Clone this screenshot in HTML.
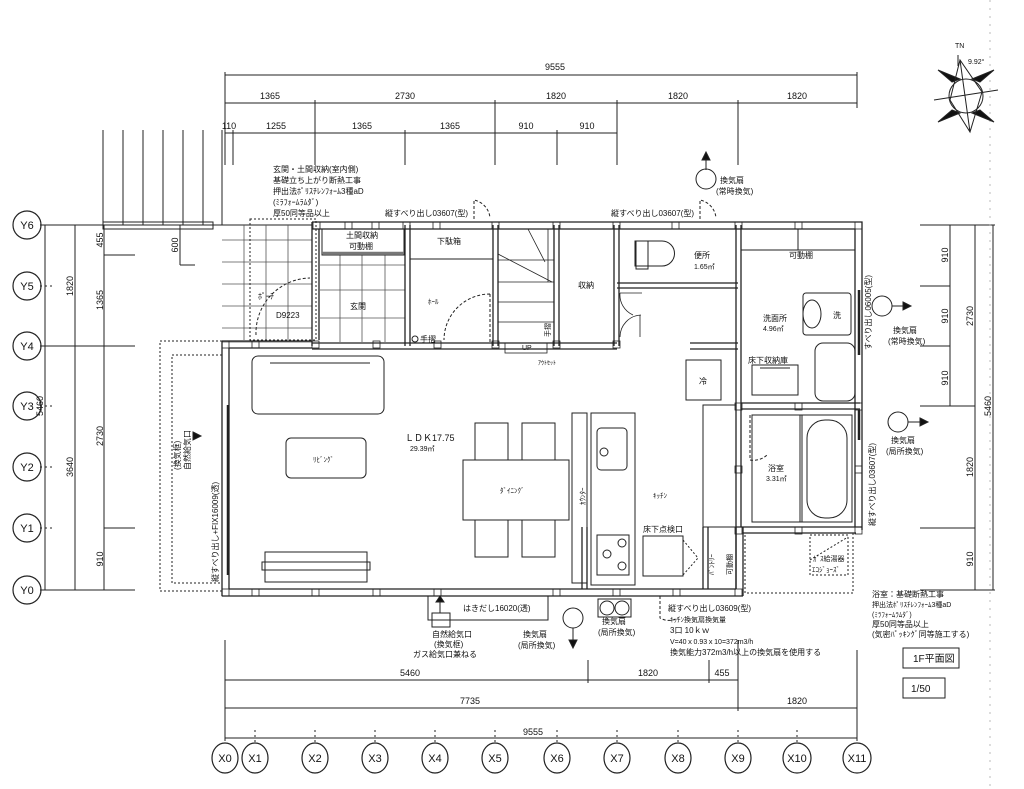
<!DOCTYPE html>
<html><head><meta charset="utf-8"><style>
html,body{margin:0;padding:0;background:#fff;}
svg{display:block;}
text{font-family:"Liberation Sans","Noto Sans CJK JP",sans-serif;fill:#111;}
</style></head><body>
<svg width="1024" height="789" viewBox="0 0 1024 789" xmlns="http://www.w3.org/2000/svg">
<g stroke="#222" stroke-width="1" fill="none">
<line x1="225" y1="75" x2="857" y2="75"/>
<line x1="225" y1="103" x2="857" y2="103"/>
<line x1="225" y1="133" x2="617" y2="133"/>
<line x1="225" y1="72" x2="225" y2="165"/><line x1="857" y1="72" x2="857" y2="108"/>
<line x1="233" y1="130" x2="233" y2="165"/>
<line x1="315" y1="100" x2="315" y2="165"/><line x1="405" y1="130" x2="405" y2="165"/>
<line x1="495" y1="100" x2="495" y2="165"/><line x1="557" y1="130" x2="557" y2="165"/>
<line x1="617" y1="100" x2="617" y2="165"/><line x1="738" y1="100" x2="738" y2="165"/>
<line x1="103" y1="130" x2="103" y2="225"/><line x1="123" y1="130" x2="123" y2="225"/>
<line x1="143" y1="130" x2="143" y2="225"/><line x1="163" y1="130" x2="163" y2="225"/>
<line x1="183" y1="130" x2="183" y2="225"/><line x1="203" y1="130" x2="203" y2="225"/>
<line x1="222" y1="130" x2="222" y2="225"/>
<line x1="45" y1="225" x2="45" y2="590"/>
<line x1="75" y1="225" x2="75" y2="590"/>
<line x1="104" y1="225" x2="104" y2="590"/>
<line x1="40" y1="225" x2="312" y2="225"/><line x1="40" y1="590" x2="135" y2="590"/>
<line x1="40" y1="286" x2="55" y2="286" stroke-dasharray="2,3"/>
<line x1="40" y1="346" x2="135" y2="346"/><line x1="40" y1="406" x2="55" y2="406" stroke-dasharray="2,3"/>
<line x1="40" y1="467" x2="55" y2="467" stroke-dasharray="2,3"/>
<line x1="104" y1="528" x2="135" y2="528"/><line x1="40" y1="528" x2="55" y2="528" stroke-dasharray="2,3"/>
<line x1="104" y1="255" x2="135" y2="255"/>
<line x1="180" y1="225" x2="180" y2="265"/><line x1="180" y1="265" x2="195" y2="265"/>
<rect x="103" y="222" width="110" height="7"/>
<line x1="950" y1="225" x2="950" y2="406"/>
<line x1="975" y1="225" x2="975" y2="590"/>
<line x1="993" y1="225" x2="993" y2="590"/>
<line x1="920" y1="225" x2="995" y2="225"/><line x1="920" y1="286" x2="950" y2="286"/>
<line x1="920" y1="346" x2="950" y2="346"/><line x1="920" y1="406" x2="975" y2="406"/>
<line x1="920" y1="528" x2="975" y2="528"/><line x1="920" y1="590" x2="995" y2="590"/>
<line x1="990" y1="0" x2="990" y2="789" stroke="#bbb" stroke-dasharray="2,6"/>
<line x1="225" y1="680" x2="738" y2="680"/>
<line x1="225" y1="708" x2="857" y2="708"/>
<line x1="225" y1="738" x2="857" y2="738"/>
<line x1="588" y1="660" x2="588" y2="683"/><line x1="709" y1="660" x2="709" y2="683"/>
<line x1="738" y1="640" x2="738" y2="711"/><line x1="857" y1="650" x2="857" y2="741"/>
<line x1="225" y1="640" x2="225" y2="741"/>
<g stroke-dasharray="2,3">
<line x1="255" y1="730" x2="255" y2="744"/><line x1="315" y1="730" x2="315" y2="744"/>
<line x1="375" y1="730" x2="375" y2="744"/><line x1="435" y1="730" x2="435" y2="744"/>
<line x1="495" y1="730" x2="495" y2="744"/><line x1="557" y1="730" x2="557" y2="744"/>
<line x1="617" y1="730" x2="617" y2="744"/><line x1="678" y1="730" x2="678" y2="744"/>
<line x1="738" y1="730" x2="738" y2="744"/><line x1="797" y1="730" x2="797" y2="744"/>
</g>
<g stroke="#555" stroke-width="0.8">
<line x1="222" y1="240" x2="312" y2="240"/><line x1="222" y1="262" x2="312" y2="262"/>
<line x1="222" y1="284" x2="312" y2="284"/><line x1="222" y1="306" x2="312" y2="306"/>
<line x1="222" y1="328" x2="312" y2="328"/>
<line x1="244" y1="225" x2="244" y2="340"/><line x1="266" y1="225" x2="266" y2="340"/><line x1="288" y1="225" x2="288" y2="340"/>
<line x1="320" y1="265" x2="405" y2="265"/><line x1="320" y1="290" x2="405" y2="290"/><line x1="320" y1="318" x2="405" y2="318"/>
<line x1="340" y1="255" x2="340" y2="342"/><line x1="362" y1="255" x2="362" y2="342"/><line x1="385" y1="255" x2="385" y2="342"/>
<line x1="222" y1="342" x2="312" y2="342"/>
</g>
<rect x="250" y="219" width="66" height="121" stroke-dasharray="2,2"/>
<path d="M256 335 A55 55 0 0 1 310 278" stroke-dasharray="3,2"/>
<g stroke-width="1.3">
<path d="M312 222 H862 V530 M312 229 H855 V527"/>
<path d="M312 222 V346 M319 229 V340"/>
<path d="M222 341 H312 M229 348 H312"/>
<path d="M222 341 V596 M229 348 V589"/>
<path d="M222 596 H743 M229 589 H736"/>
<path d="M743 527 V596 M736 527 V589"/>
<path d="M736 527 H862"/><path d="M743 533 H856"/>
<path d="M405 225 V346 M410 225 V346"/>
<path d="M493 225 V346 M498 225 V346"/>
<path d="M554 225 V346 M559 225 V346"/>
<path d="M614 225 V346 M619 225 V346"/>
<path d="M312 343 H617 M312 349 H617"/>
<path d="M617 283 H738 M617 288 H738"/>
<path d="M736 225 V589 M741 225 V527"/>
<path d="M741 403 H860 M741 409 H860"/>
<path d="M690 343 H738 M690 349 H738"/>
<path d="M703 527 V589 M708 527 V589"/>
<path d="M582 527 V589 M587 527 V589"/>
<path d="M228 405 V575" stroke-width="2.5"/>
<path d="M859 290 V355" stroke-width="2.5"/><path d="M859 410 V440" stroke-width="2.5"/>
</g>
<g stroke-width="0.8">
<rect x="313" y="222" width="7" height="7"/><rect x="345" y="222" width="7" height="7"/><rect x="372" y="222" width="7" height="7"/>
<rect x="403" y="222" width="7" height="7"/><rect x="433" y="222" width="7" height="7"/><rect x="492" y="222" width="7" height="7"/>
<rect x="553" y="222" width="7" height="7"/><rect x="613" y="222" width="7" height="7"/><rect x="672" y="222" width="7" height="7"/>
<rect x="735" y="222" width="7" height="7"/><rect x="795" y="222" width="7" height="7"/><rect x="855" y="222" width="7" height="7"/>
<rect x="222" y="341" width="7" height="7"/><rect x="252" y="341" width="7" height="7"/><rect x="312" y="341" width="7" height="7"/>
<rect x="373" y="341" width="7" height="7"/><rect x="434" y="341" width="7" height="7"/><rect x="492" y="341" width="7" height="7"/>
<rect x="553" y="341" width="7" height="7"/><rect x="613" y="341" width="7" height="7"/>
<rect x="222" y="589" width="7" height="7"/><rect x="252" y="589" width="7" height="7"/><rect x="312" y="589" width="7" height="7"/>
<rect x="373" y="589" width="7" height="7"/><rect x="434" y="589" width="7" height="7"/><rect x="553" y="589" width="7" height="7"/>
<rect x="613" y="589" width="7" height="7"/><rect x="673" y="589" width="7" height="7"/><rect x="735" y="589" width="7" height="7"/>
<rect x="855" y="403" width="7" height="7"/><rect x="855" y="466" width="7" height="7"/><rect x="855" y="527" width="7" height="7"/>
<rect x="795" y="403" width="7" height="7"/><rect x="735" y="403" width="7" height="7"/><rect x="735" y="466" width="7" height="7"/>
<rect x="795" y="527" width="7" height="7"/><rect x="735" y="527" width="7" height="7"/>
</g>
<rect x="322" y="229" width="82" height="26"/>
<line x1="322" y1="253" x2="404" y2="253" stroke-width="2.5" stroke="#777"/>
<line x1="410" y1="259" x2="493" y2="259"/>
<path d="M490 294 V343 M490 294 A46 46 0 0 0 444 340" stroke-dasharray="3,2"/>
<path d="M474 219 V200 A20 20 0 0 1 490 218" stroke-dasharray="3,2"/>
<path d="M700 219 V200 A20 20 0 0 1 716 218" stroke-dasharray="3,2"/>
<circle cx="415" cy="339" r="3"/>
<g stroke-width="0.8">
<line x1="498" y1="260" x2="554" y2="260"/><line x1="498" y1="282" x2="554" y2="282"/><line x1="498" y1="302" x2="554" y2="302"/>
<line x1="498" y1="322" x2="554" y2="322"/><line x1="528" y1="229" x2="545" y2="262"/><line x1="498" y1="254" x2="552" y2="282"/>
<line x1="548" y1="229" x2="548" y2="282"/>
<rect x="505" y="343" width="42" height="10"/>
</g>
<path d="M620 293 L642 293 M620 293 A22 22 0 0 0 633 315 M620 337 A22 22 0 0 1 641 315 M640 337 V315" stroke-width="0.8"/>
<path d="M635 241 H662 A12 12 0 0 1 662 266 H635 Z"/><rect x="636" y="241" width="12" height="28"/>
<line x1="741" y1="250" x2="855" y2="250"/><line x1="798" y1="229" x2="798" y2="250"/>
<rect x="803" y="293" width="48" height="42" rx="3"/><ellipse cx="812" cy="314" rx="9" ry="14"/>
<rect x="815" y="343" width="40" height="58" rx="8"/>
<rect x="752" y="365" width="46" height="30"/><line x1="760" y1="368" x2="790" y2="368"/>
<rect x="752" y="415" width="50" height="107"/>
<rect x="800" y="415" width="52" height="107"/>
<rect x="807" y="420" width="40" height="98" rx="18"/>
<path d="M750 415 V460 A20 20 0 0 0 767 455" stroke-dasharray="3,2"/>
<rect x="745" y="533" width="108" height="60" stroke-dasharray="2,2"/>
<rect x="810" y="535" width="38" height="40" stroke-dasharray="2,2"/>
<line x1="810" y1="560" x2="848" y2="537" stroke-dasharray="2,2"/>
<rect x="252" y="356" width="132" height="58" rx="6"/><line x1="270" y1="363" x2="370" y2="363"/>
<rect x="286" y="438" width="80" height="40" rx="5"/>
<rect x="265" y="552" width="102" height="30"/><rect x="262" y="562" width="108" height="8"/>
<rect x="463" y="460" width="106" height="60"/>
<rect x="475" y="423" width="33" height="37"/><rect x="522" y="423" width="33" height="37"/>
<rect x="475" y="520" width="33" height="37"/><rect x="522" y="520" width="33" height="37"/>
<rect x="572" y="413" width="15" height="170"/>
<rect x="591" y="413" width="44" height="172"/>
<rect x="597" y="428" width="30" height="42" rx="4"/><circle cx="604" cy="452" r="4"/>
<rect x="597" y="535" width="32" height="40"/>
<circle cx="622" cy="543" r="4"/><circle cx="607" cy="554" r="4"/><circle cx="622" cy="566" r="4"/>
<rect x="643" y="536" width="40" height="40"/>
<path d="M683 540 L698 558 L683 575" stroke-dasharray="2,2"/>
<rect x="686" y="360" width="35" height="40"/>
<rect x="703" y="405" width="33" height="122"/>
<path d="M660 596 V618 A18 18 0 0 0 678 618" stroke-dasharray="3,2"/>
<rect x="160" y="341" width="62" height="250" stroke-dasharray="2,2"/>
<rect x="172" y="355" width="50" height="228" stroke-dasharray="2,2"/>
<rect x="428" y="596" width="120" height="24"/>
<rect x="432" y="613" width="18" height="14"/>
<line x1="440" y1="613" x2="440" y2="600"/>
<path d="M436 602 L440 596 L444 602 Z" fill="#111"/>
<circle cx="706" cy="179" r="10"/><line x1="706" y1="170" x2="706" y2="156"/><path d="M702 160 L706 152 L710 160 Z" fill="#111"/>
<circle cx="573" cy="618" r="10"/><line x1="573" y1="628" x2="573" y2="642"/><path d="M569 640 L573 648 L577 640 Z" fill="#111"/>
<circle cx="607" cy="608" r="7"/><circle cx="622" cy="608" r="7"/><rect x="598" y="599" width="33" height="18"/>
<circle cx="882" cy="306" r="10"/><line x1="892" y1="306" x2="905" y2="306"/><path d="M903 302 L911 306 L903 310 Z" fill="#111"/>
<circle cx="898" cy="422" r="10"/><line x1="908" y1="422" x2="922" y2="422"/><path d="M920 418 L928 422 L920 426 Z" fill="#111"/>
<path d="M193 432 L201 436 L193 440 Z" fill="#111"/>
<g stroke-width="1.2">
<ellipse cx="225" cy="758" rx="13" ry="15"/><ellipse cx="255" cy="758" rx="13" ry="15"/><ellipse cx="315" cy="758" rx="13" ry="15"/>
<ellipse cx="375" cy="758" rx="13" ry="15"/><ellipse cx="435" cy="758" rx="13" ry="15"/><ellipse cx="495" cy="758" rx="13" ry="15"/>
<ellipse cx="557" cy="758" rx="13" ry="15"/><ellipse cx="617" cy="758" rx="13" ry="15"/><ellipse cx="678" cy="758" rx="13" ry="15"/>
<ellipse cx="738" cy="758" rx="13" ry="15"/><ellipse cx="797" cy="758" rx="14" ry="15"/><ellipse cx="857" cy="758" rx="14" ry="15"/>
<ellipse cx="27" cy="225" rx="14" ry="14"/><ellipse cx="27" cy="286" rx="14" ry="14"/><ellipse cx="27" cy="346" rx="14" ry="14"/>
<ellipse cx="27" cy="406" rx="14" ry="14"/><ellipse cx="27" cy="467" rx="14" ry="14"/><ellipse cx="27" cy="528" rx="14" ry="14"/>
<ellipse cx="27" cy="590" rx="14" ry="14"/>
</g>
<rect x="903" y="648" width="56" height="20"/>
<rect x="903" y="678" width="42" height="20"/>
<circle cx="966" cy="96" r="17"/>
<path d="M952 82 L938 70 L960 79 Z M980 82 L994 70 L972 79 Z M952 110 L938 122 L960 113 Z M980 110 L994 122 L972 113 Z" fill="#111"/>
<path d="M960 60 L970 132 M934 100 L998 90 M960 60 L950 100 L970 132 L982 92 Z"/>
<line x1="958" y1="55" x2="958" y2="66"/>
</g>
<g font-size="9">
<text x="555" y="70" text-anchor="middle">9555</text>
<text x="270" y="99" text-anchor="middle">1365</text><text x="405" y="99" text-anchor="middle">2730</text>
<text x="556" y="99" text-anchor="middle">1820</text><text x="678" y="99" text-anchor="middle">1820</text><text x="797" y="99" text-anchor="middle">1820</text>
<text x="229" y="129" text-anchor="middle">110</text><text x="276" y="129" text-anchor="middle">1255</text>
<text x="362" y="129" text-anchor="middle">1365</text><text x="450" y="129" text-anchor="middle">1365</text>
<text x="526" y="129" text-anchor="middle">910</text><text x="587" y="129" text-anchor="middle">910</text>
<text x="410" y="676" text-anchor="middle">5460</text><text x="648" y="676" text-anchor="middle">1820</text><text x="722" y="676" text-anchor="middle">455</text>
<text x="470" y="704" text-anchor="middle">7735</text><text x="797" y="704" text-anchor="middle">1820</text>
<text x="533" y="735" text-anchor="middle">9555</text>
<text font-size="11" x="225" y="762" text-anchor="middle">X0</text><text font-size="11" x="255" y="762" text-anchor="middle">X1</text>
<text font-size="11" x="315" y="762" text-anchor="middle">X2</text><text font-size="11" x="375" y="762" text-anchor="middle">X3</text>
<text font-size="11" x="435" y="762" text-anchor="middle">X4</text><text font-size="11" x="495" y="762" text-anchor="middle">X5</text>
<text font-size="11" x="557" y="762" text-anchor="middle">X6</text><text font-size="11" x="617" y="762" text-anchor="middle">X7</text>
<text font-size="11" x="678" y="762" text-anchor="middle">X8</text><text font-size="11" x="738" y="762" text-anchor="middle">X9</text>
<text font-size="11" x="797" y="762" text-anchor="middle">X10</text><text font-size="11" x="857" y="762" text-anchor="middle">X11</text>
<text font-size="11" x="27" y="229" text-anchor="middle">Y6</text><text font-size="11" x="27" y="290" text-anchor="middle">Y5</text>
<text font-size="11" x="27" y="350" text-anchor="middle">Y4</text><text font-size="11" x="27" y="410" text-anchor="middle">Y3</text>
<text font-size="11" x="27" y="471" text-anchor="middle">Y2</text><text font-size="11" x="27" y="532" text-anchor="middle">Y1</text>
<text font-size="11" x="27" y="594" text-anchor="middle">Y0</text>
<text transform="translate(103,240) rotate(-90)" text-anchor="middle">455</text>
<text transform="translate(103,300) rotate(-90)" text-anchor="middle">1365</text>
<text transform="translate(103,436) rotate(-90)" text-anchor="middle">2730</text>
<text transform="translate(103,559) rotate(-90)" text-anchor="middle">910</text>
<text transform="translate(73,286) rotate(-90)" text-anchor="middle">1820</text>
<text transform="translate(73,467) rotate(-90)" text-anchor="middle">3640</text>
<text transform="translate(43,406) rotate(-90)" text-anchor="middle">5460</text>
<text transform="translate(178,245) rotate(-90)" text-anchor="middle">600</text>
<text transform="translate(948,255) rotate(-90)" text-anchor="middle">910</text>
<text transform="translate(948,316) rotate(-90)" text-anchor="middle">910</text>
<text transform="translate(948,378) rotate(-90)" text-anchor="middle">910</text>
<text transform="translate(973,316) rotate(-90)" text-anchor="middle">2730</text>
<text transform="translate(973,467) rotate(-90)" text-anchor="middle">1820</text>
<text transform="translate(973,559) rotate(-90)" text-anchor="middle">910</text>
<text transform="translate(991,406) rotate(-90)" text-anchor="middle">5460</text>
</g>
<g font-size="8">
<text x="273" y="172">玄関・土間収納(室内側)</text>
<text x="273" y="183">基礎立ち上がり断熱工事</text>
<text x="273" y="194">押出法ﾎﾟﾘｽﾁﾚﾝﾌｫｰﾑ3種aD</text>
<text x="273" y="205">(ﾐﾗﾌｫｰﾑﾗﾑﾀﾞ)</text>
<text x="273" y="216">厚50同等品以上</text>
<text x="385" y="216">縦すべり出し03607(型)</text>
<text x="611" y="216">縦すべり出し03607(型)</text>
<text x="720" y="183">換気扇</text><text x="716" y="194">(常時換気)</text>
<text x="346" y="238">土間収納</text><text x="349" y="249">可動棚</text>
<text x="437" y="244">下駄箱</text>
<text x="350" y="309">玄関</text><text x="428" y="304" font-size="7">ﾎｰﾙ</text>
<text x="258" y="299">ﾎﾟｰﾁ</text><text x="276" y="318">D9223</text>
<text x="420" y="342">手摺</text>
<text x="578" y="288">収納</text>
<text x="522" y="350" font-size="7">UP</text>
<text x="538" y="365" font-size="6">ｱｳﾄｾｯﾄ</text>
<text x="694" y="258">便所</text><text x="694" y="269" font-size="7">1.65㎡</text>
<text x="789" y="258">可動棚</text>
<text x="763" y="321">洗面所</text><text x="763" y="331" font-size="7">4.96㎡</text>
<text x="833" y="318">洗</text>
<text x="748" y="363">床下収納庫</text>
<text x="699" y="384">冷</text>
<text x="768" y="471">浴室</text><text x="766" y="481" font-size="7">3.31㎡</text>
<text x="405" y="441" font-size="9">ＬＤＫ17.75</text><text x="410" y="451" font-size="7">29.39㎡</text>
<text x="313" y="462" font-size="7">ﾘﾋﾞﾝｸﾞ</text>
<text x="500" y="493" font-size="7">ﾀﾞｲﾆﾝｸﾞ</text>
<text x="653" y="498" font-size="7">ｷｯﾁﾝ</text>
<text x="643" y="532">床下点検口</text>
<text x="813" y="561" font-size="7">ｶﾞｽ給湯器</text><text x="812" y="572" font-size="7">ｴｺｼﾞｮｰｽﾞ</text>
<text x="463" y="611">はきだし16020(透)</text>
<text x="432" y="637">自然給気口</text><text x="434" y="647">(換気框)</text><text x="413" y="657">ガス給気口兼ねる</text>
<text x="523" y="637">換気扇</text><text x="518" y="648">(局所換気)</text>
<text x="602" y="624">換気扇</text><text x="598" y="635">(局所換気)</text>
<text x="668" y="611">縦すべり出し03609(型)</text>
<text x="670" y="622" font-size="7">ｷｯﾁﾝ換気扇換気量</text>
<text x="670" y="633">3口 10ｋｗ</text>
<text x="670" y="644" font-size="7">V=40ｘ0.93ｘ10=372m3/h</text>
<text x="670" y="655">換気能力372m3/h以上の換気扇を使用する</text>
<text x="872" y="597">浴室：基礎断熱工事</text>
<text x="872" y="607" font-size="7">押出法ﾎﾟﾘｽﾁﾚﾝﾌｫｰﾑ3種aD</text>
<text x="872" y="617" font-size="7">(ﾐﾗﾌｫｰﾑﾗﾑﾀﾞ)</text>
<text x="872" y="627">厚50同等品以上</text>
<text x="872" y="637">(気密ﾊﾟｯｷﾝｸﾞ同等施工する)</text>
<text x="893" y="333">換気扇</text><text x="888" y="344">(常時換気)</text>
<text x="891" y="443">換気扇</text><text x="886" y="454">(局所換気)</text>
<text x="955" y="48" font-size="7">TN</text><text x="968" y="64" font-size="7">9.92°</text>
<text x="913" y="662" font-size="10">1F平面図</text>
<text x="911" y="692" font-size="10">1/50</text>
<text transform="translate(871,350) rotate(-90)">すべり出し06005(型)</text>
<text transform="translate(875,526) rotate(-90)">縦すべり出し03607(型)</text>
<text transform="translate(218,582) rotate(-90)">縦すべり出し+FIX16009(透)</text>
<text transform="translate(180,470) rotate(-90)">(換気框)</text>
<text transform="translate(190,470) rotate(-90)">自然給気口</text>
<text transform="translate(585,505) rotate(-90)" font-size="7">ｶｳﾝﾀｰ</text>
<text transform="translate(714,575) rotate(-90)" font-size="7">ﾊﾟﾝﾄﾘｰ</text>
<text transform="translate(732,575) rotate(-90)" font-size="7">可動棚</text>
<text transform="translate(550,337) rotate(-90)" font-size="7">手摺</text>
</g>
</svg>
</body></html>
